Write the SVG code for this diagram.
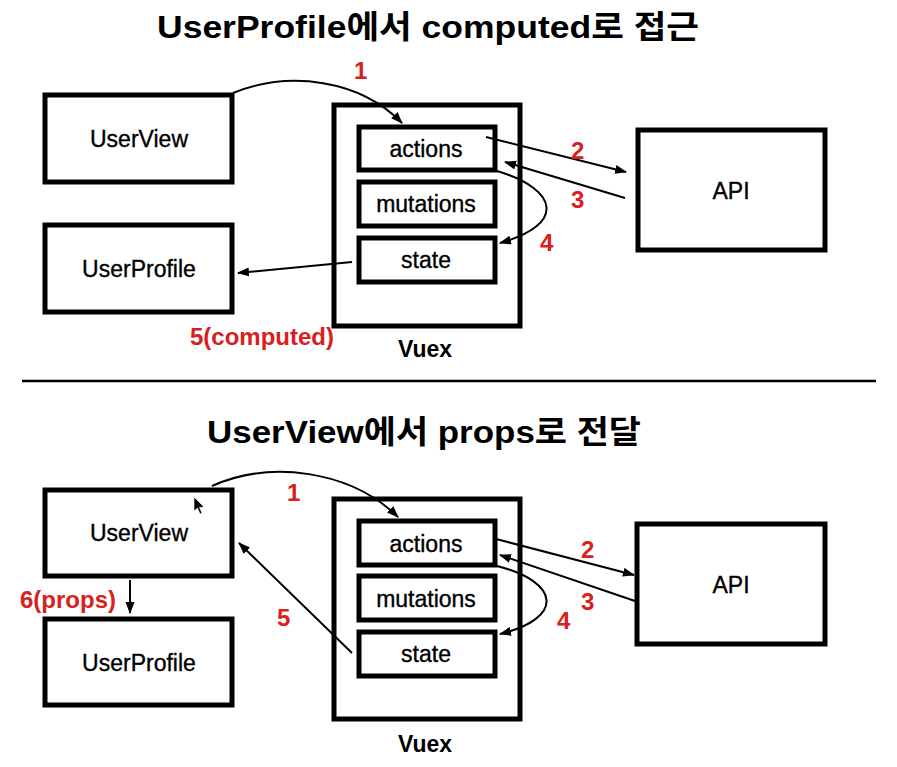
<svg xmlns="http://www.w3.org/2000/svg" width="897" height="767" viewBox="0 0 897 767">
<defs>
<style>
.box{fill:#fff;stroke:#000;stroke-width:5}
.obox{fill:#fff;stroke:#000;stroke-width:5}
.t{font-family:"Liberation Sans","Noto Sans CJK KR",sans-serif;font-size:23px;fill:#000;stroke:#000;stroke-width:0.35;text-anchor:middle}
.title{font-family:"Liberation Sans","Noto Sans CJK KR",sans-serif;font-size:32px;font-weight:bold;fill:#000;text-anchor:middle}
.vx{font-family:"Liberation Sans",sans-serif;font-size:23px;font-weight:bold;fill:#000;text-anchor:middle}
.lbl{font-family:"Liberation Sans",sans-serif;font-size:24px;font-weight:bold;fill:#d8201c}
.c{fill:none;stroke:#000;stroke-width:2}
</style>
<marker id="ah" markerUnits="userSpaceOnUse" markerWidth="12" markerHeight="10" refX="11" refY="4.5" orient="auto">
<path d="M0,0 L12,4.5 L0,9 z" fill="#000"/>
</marker>
</defs>
<rect width="897" height="767" fill="#fff"/>

<text class="title" x="428" y="38" textLength="542" lengthAdjust="spacingAndGlyphs">UserProfile에서 computed로 접근</text>
<line x1="22" y1="381" x2="876" y2="381" stroke="#000" stroke-width="2.5"/>
<text class="title" x="424" y="443" textLength="434" lengthAdjust="spacingAndGlyphs">UserView에서 props로 전달</text>

<!-- top section -->
<g id="top-userview"><rect class="box" x="45" y="95" width="187" height="87"/><text class="t" x="139" y="147">UserView</text></g>
<g id="top-userprofile"><rect class="box" x="45" y="225" width="187" height="87"/><text class="t" x="139" y="277">UserProfile</text></g>
<g id="top-vuex"><rect class="obox" x="334" y="105" width="186" height="221"/><text class="vx" x="425" y="357">Vuex</text></g>
<g id="top-actions"><rect class="box" x="359" y="127" width="136" height="43"/><text class="t" x="426" y="157">actions</text></g>
<g id="top-mutations"><rect class="box" x="359" y="182" width="136" height="44"/><text class="t" x="426" y="212">mutations</text></g>
<g id="top-state"><rect class="box" x="359" y="238" width="136" height="44"/><text class="t" x="426" y="268">state</text></g>
<g id="top-api"><rect class="box" x="638" y="130" width="187" height="120"/><text class="t" x="731" y="199">API</text></g>

<g id="top-connectors">
<path class="c" d="M233,93 C290,70 360,80 402,123" marker-end="url(#ah)"/>
<line class="c" x1="486" y1="137" x2="626" y2="172" marker-end="url(#ah)"/>
<line class="c" x1="625" y1="198" x2="505" y2="162" marker-end="url(#ah)"/>
<path class="c" d="M497,171 C560,190 565,225 500,243" marker-end="url(#ah)"/>
<line class="c" x1="352" y1="262" x2="238" y2="273" marker-end="url(#ah)"/>
</g>
<g id="top-labels">
<text class="lbl" x="354" y="79">1</text>
<text class="lbl" x="571" y="159">2</text>
<text class="lbl" x="571" y="208">3</text>
<text class="lbl" x="540" y="251">4</text>
<text class="lbl" x="190" y="345">5(computed)</text>
</g>

<!-- bottom section -->
<g id="bot-userview"><rect class="box" x="45" y="490" width="187" height="86"/><text class="t" x="139" y="541">UserView</text></g>
<g id="bot-userprofile"><rect class="box" x="45" y="619" width="187" height="86"/><text class="t" x="139" y="671">UserProfile</text></g>
<g id="bot-vuex"><rect class="obox" x="334" y="499" width="186" height="220"/><text class="vx" x="425" y="752">Vuex</text></g>
<g id="bot-actions"><rect class="box" x="359" y="521" width="136" height="44"/><text class="t" x="426" y="552">actions</text></g>
<g id="bot-mutations"><rect class="box" x="359" y="576" width="136" height="44"/><text class="t" x="426" y="607">mutations</text></g>
<g id="bot-state"><rect class="box" x="359" y="632" width="136" height="44"/><text class="t" x="426" y="662">state</text></g>
<g id="bot-api"><rect class="box" x="637" y="524" width="188" height="120"/><text class="t" x="731" y="593">API</text></g>

<g id="bot-connectors">
<path class="c" d="M212,486 C270,460 350,470 398,517" marker-end="url(#ah)"/>
<line class="c" x1="496" y1="539" x2="634" y2="575" marker-end="url(#ah)"/>
<line class="c" x1="635" y1="601" x2="500" y2="555" marker-end="url(#ah)"/>
<path class="c" d="M497,566 C560,582 565,618 500,634" marker-end="url(#ah)"/>
<line class="c" x1="352" y1="653" x2="239" y2="543" marker-end="url(#ah)"/>
<line class="c" x1="130" y1="580" x2="130" y2="613" marker-end="url(#ah)"/>
</g>
<g id="bot-labels">
<text class="lbl" x="287" y="501">1</text>
<text class="lbl" x="581" y="558">2</text>
<text class="lbl" x="581" y="610">3</text>
<text class="lbl" x="557" y="629">4</text>
<text class="lbl" x="277" y="626">5</text>
<text class="lbl" x="20" y="608">6(props)</text>
</g>

<path d="M194,497 L194,511 L197.5,508 L200,514 L202,513 L199.5,507.5 L204,507 z" fill="#000" stroke="#fff" stroke-width="0.6"/>
</svg>
